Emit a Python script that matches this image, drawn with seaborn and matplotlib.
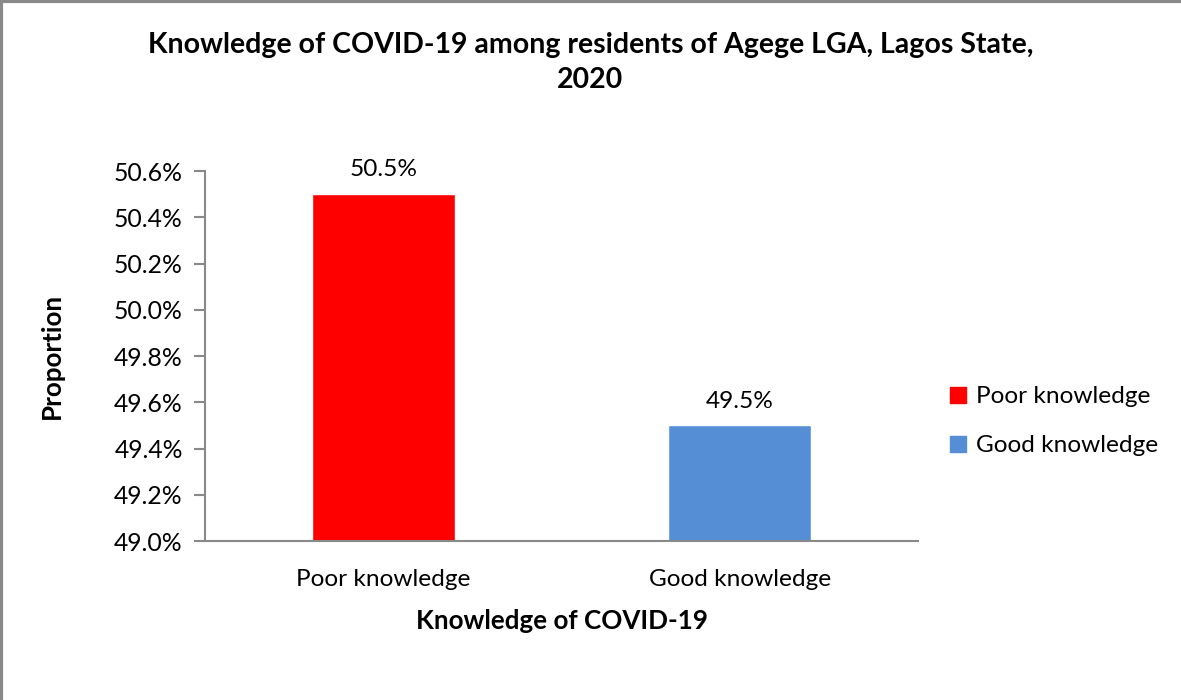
#!/usr/bin/env python3

import matplotlib
matplotlib.use('Agg')
import matplotlib.pyplot as plt
import matplotlib.lines as mlines
import matplotlib.patches as mpatches
import pandas as pd
import seaborn as sns

SET_DPI = 100
FIGSIZE = (11.81, 7.0)

CATEGORIES = ['Poor knowledge', 'Good knowledge']
PROPORTIONS = [50.5, 49.5]
COLOURS = ['#ff0000', '#558ed5']
Y_TICKS = [49.0, 49.2, 49.4, 49.6, 49.8, 50.0, 50.2, 50.4, 50.6]

TITLE = 'Knowledge of COVID-19 among residents of Agege LGA, Lagos State,\n2020'
GREY = '#898989'

sns.set_style('white')
plt.rcParams['font.family'] = ['Lato', 'DejaVu Sans']
plt.rcParams['text.color'] = 'black'
plt.rcParams['axes.labelcolor'] = 'black'
plt.rcParams['xtick.color'] = 'black'
plt.rcParams['ytick.color'] = 'black'

df = pd.DataFrame({'knowledge': CATEGORIES, 'prop': PROPORTIONS})

fig = plt.figure(figsize=FIGSIZE, dpi=SET_DPI)
ax = fig.add_axes([0.1736, 0.2271, 0.6037, 0.5286])

sns.barplot(x='knowledge', y='prop', hue='knowledge', data=df,
            palette=COLOURS, width=0.4, saturation=1, legend=False, ax=ax)

ax.set_ylim(49.0, 50.6)
ax.set_xlim(-0.5, 1.5)
ax.set_yticks(Y_TICKS)
ax.set_yticklabels([f'{v:.1f}%' for v in Y_TICKS], fontsize=17.8)
ax.tick_params(axis='y', length=8, width=1.5, color=GREY, labelcolor='black', pad=8, left=True)
ax.tick_params(axis='x', length=0, pad=20, labelsize=17.6, labelcolor='black')

for side in ['top', 'right']:
    ax.spines[side].set_visible(False)
for side in ['left', 'bottom']:
    ax.spines[side].set_color(GREY)
    ax.spines[side].set_linewidth(1.5)

for patch, val in zip(ax.patches, PROPORTIONS):
    ax.annotate(f'{val:.1f}%', (patch.get_x() + patch.get_width() / 2, patch.get_height()),
                xytext=(0, 10), textcoords='offset points', ha='center', va='bottom',
                fontsize=17.6)

ax.set_xlabel('Knowledge of COVID-19', fontsize=18.7, fontweight='bold', labelpad=14)
ax.set_ylabel('Proportion', fontsize=18.7, fontweight='bold', labelpad=36)

fig.text(0.5, 0.955, TITLE, ha='center', va='top', fontsize=20.5, fontweight='bold',
         linespacing=1.45)

handles = [mpatches.Patch(color=c, label=l) for c, l in zip(COLOURS, CATEGORIES)]
fig.legend(handles=handles, loc='center left', bbox_to_anchor=(0.786, 0.398),
           frameon=False, fontsize=17.6, handlelength=0.65, handleheight=0.65,
           handletextpad=0.4, labelspacing=1.15)

# outer chart frame (only top and left edges show)
fig.add_artist(mlines.Line2D([0, 1], [0.998, 0.998], color=GREY, lw=3, transform=fig.transFigure))
fig.add_artist(mlines.Line2D([0.001, 0.001], [0, 1], color=GREY, lw=3, transform=fig.transFigure))

plt.savefig('out.png', dpi=SET_DPI)
plt.close('all')
